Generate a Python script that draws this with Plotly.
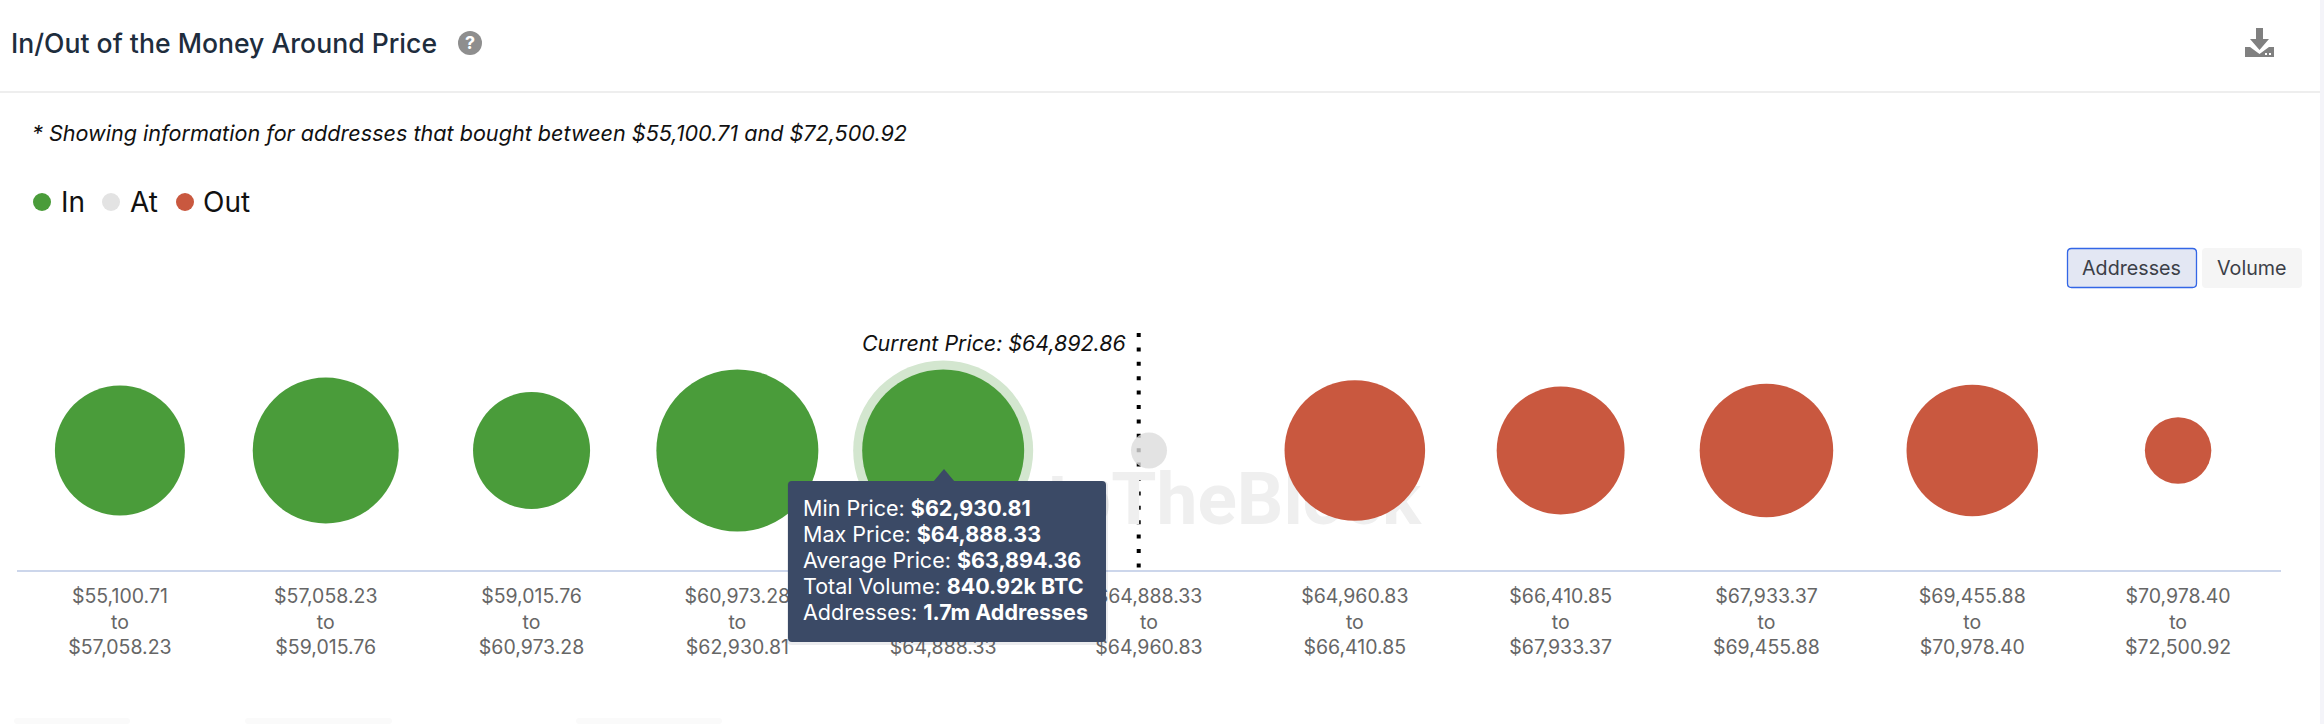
import plotly.graph_objects as go

# --- DATA ---
RANGE_LOW = ["$55,100.71", "$57,058.23", "$59,015.76", "$60,973.28", "$62,930.81", "$64,888.33",
             "$64,960.83", "$66,410.85", "$67,933.37", "$69,455.88", "$70,978.40"]
RANGE_HIGH = ["$57,058.23", "$59,015.76", "$60,973.28", "$62,930.81", "$64,888.33", "$64,960.83",
              "$66,410.85", "$67,933.37", "$69,455.88", "$70,978.40", "$72,500.92"]
ADDRESSES_M = [1.095, 1.38, 0.887, 1.70, 1.70, 0.084, 1.28, 1.06, 1.155, 1.12, 0.286]
STATUS = ["In", "In", "In", "In", "In", "At", "Out", "Out", "Out", "Out", "Out"]
CURRENT_POS = 4.95
HOVERED = 4
TOOLTIP_LINES = ["Min Price: <b>$62,930.81</b>", "Max Price: <b>$64,888.33</b>", "Average Price: <b>$63,894.36</b>",
                 "Total Volume: <b>840.92k BTC</b>", "Addresses: <b>1.7m Addresses</b>"]

# --- CONFIGURATION ---
W, H = 2324, 724
AX_L, AX_R, AX_T, AX_B = 17, 2281, 331, 570
FONT = "Inter"
COLORS = {"In": "#4a9c3a", "At": "#dcdcdc", "Out": "#c9583f"}
HALO = "#d3e6cf"
BUBBLE_D = 162  # pixel diameter of the 1.7m bubble


def px(x):
    return x / W


def py(y):
    return 1 - y / H


def label(x, y, text, size, color="#111111", anchor="left", italic=False, weight=400):
    style = "italic" if italic else "normal"
    return dict(xref="paper", yref="paper", x=px(x), y=py(y), text=text, showarrow=False,
                xanchor=anchor, yanchor="middle", align="left",
                font=dict(family=FONT, size=size, color=color, style=style, weight=weight))


def box(x0, y0, x1, y1, fill, line=None, width=0):
    return dict(type="rect", xref="paper", yref="paper", x0=px(x0), x1=px(x1), y0=py(y0), y1=py(y1),
                fillcolor=fill, line=dict(color=line, width=width) if line else dict(width=0), layer="above")


def rounded(x0, y0, x1, y1, r, fill, line=None, width=0):
    d = (f"M {px(x0 + r)},{py(y0)} L {px(x1 - r)},{py(y0)} Q {px(x1)},{py(y0)} {px(x1)},{py(y0 + r)} "
         f"L {px(x1)},{py(y1 - r)} Q {px(x1)},{py(y1)} {px(x1 - r)},{py(y1)} "
         f"L {px(x0 + r)},{py(y1)} Q {px(x0)},{py(y1)} {px(x0)},{py(y1 - r)} "
         f"L {px(x0)},{py(y0 + r)} Q {px(x0)},{py(y0)} {px(x0 + r)},{py(y0)} Z")
    return dict(type="path", xref="paper", yref="paper", path=d, fillcolor=fill,
                line=dict(color=line, width=width) if line else dict(width=0), layer="above")


def dot(cx, cy, d, fill):
    return dict(type="circle", xref="paper", yref="paper", x0=px(cx - d / 2), x1=px(cx + d / 2),
                y0=py(cy + d / 2), y1=py(cy - d / 2), fillcolor=fill, line=dict(width=0), layer="above")


def path(points, fill):
    d = "M " + " L ".join(f"{px(a):.5f},{py(b):.5f}" for a, b in points) + " Z"
    return dict(type="path", xref="paper", yref="paper", path=d, fillcolor=fill, line=dict(width=0), layer="above")


xs = list(range(len(ADDRESSES_M)))
sizeref = 2 * ADDRESSES_M[HOVERED] / BUBBLE_D ** 2
tick_text = [f"{a}<br>to<br>{b}" for a, b in zip(RANGE_LOW, RANGE_HIGH)]

fig = go.Figure()

# watermark sits under the bubbles so it has to be a trace
fig.add_trace(go.Scatter(x=[5.26], y=[-0.46], mode="text", text=["<b>IntoTheBlock</b>"],
                         textfont=dict(family="Roboto", size=73, color="#efefef"), hoverinfo="skip"))
fig.add_trace(go.Scatter(x=[HOVERED], y=[0], mode="markers", hoverinfo="skip",
                         marker=dict(size=180, color=HALO, line=dict(width=0))))
for s in ["In", "At", "Out"]:
    idx = [i for i in xs if STATUS[i] == s]
    fig.add_trace(go.Scatter(x=[xs[i] for i in idx], y=[0] * len(idx), mode="markers", name=s,
                             marker=dict(size=[ADDRESSES_M[i] for i in idx], sizemode="area", sizeref=sizeref,
                                         color=COLORS[s], opacity=0.8 if s == "At" else 1, line=dict(width=0))))

shapes = [
    dict(type="line", xref="x", yref="paper", x0=CURRENT_POS, x1=CURRENT_POS, y0=py(333), y1=py(568),
         line=dict(color="#000000", width=4, dash="4px,10.4px"), layer="below"),
    # header
    box(0, 91, 2320, 93, "#eeeeee"),
    box(2320, 0, 2324, 724, "#f4f4f9"),
    dot(470, 43, 24, "#8e8e8e"),
    # legend
    dot(42, 202, 18, COLORS["In"]),
    dot(111, 202, 18, "#e3e3e3"),
    dot(185, 202, 18, COLORS["Out"]),
    # buttons
    rounded(2067.5, 248.5, 2196.5, 287.5, 4, "#e3e7f3", "#3366e6", 1.3),
    rounded(2202, 248, 2302, 288, 4, "#f5f5f5"),
    # download icon
    path([(2256, 28), (2263, 28), (2263, 39), (2269, 39), (2259.5, 50), (2250, 39), (2256, 39)], "#808080"),
    path([(2245, 47), (2250, 47), (2259.5, 54), (2269, 47), (2274, 47), (2274, 57), (2245, 57)], "#808080"),
    box(2265, 53, 2267, 55, "#ffffff"),
    box(2269, 53, 2271, 55, "#ffffff"),
    # blurred page content along the bottom edge
    rounded(14, 718, 130, 724, 3, "#fafafa"),
    rounded(245, 718, 392, 724, 3, "#fafafa"),
    rounded(576, 718, 722, 724, 3, "#fafafa"),
    # tooltip
    rounded(787, 481, 1108, 645, 5, "rgba(60,70,90,0.10)"),
    rounded(788, 481, 1106, 642, 4, "#3b4a66"),
    path([(933, 482), (944, 469), (955, 482)], "#3b4a66"),
]

annotations = [
    label(9, 43, "In/Out of the Money Around Price", 26.6, "#1e2d3d", weight=500),
    label(470, 43, "?", 18, "#ffffff", "center", weight=700),
    label(30, 133, "* Showing information for addresses that bought between $55,100.71 and $72,500.92", 21.6, italic=True),
    label(59, 202, "In", 28),
    label(128, 202, "At", 28),
    label(201, 202, "Out", 28),
    label(2131, 268, "Addresses", 19.7, "#3c3f48", "center"),
    label(2252, 268, "Volume", 19.7, "#3c3f48", "center"),
    label(1128, 343, "Current Price: $64,892.86", 21.4, anchor="right", italic=True),
]
for i, line in enumerate(TOOLTIP_LINES):
    annotations.append(label(801, 508 + i * 26, line, 21.5, "#ffffff"))

fig.update_layout(
    width=W, height=H, margin=dict(l=0, r=0, t=0, b=0), showlegend=False,
    paper_bgcolor="#ffffff", plot_bgcolor="#ffffff", shapes=shapes, annotations=annotations,
    xaxis=dict(domain=[px(AX_L), px(AX_R)], range=[-0.5, len(xs) - 0.5], tickvals=xs, ticktext=tick_text,
               showgrid=False, zeroline=False, showline=True, linecolor="#ccd6eb", linewidth=2, ticks="",
               ticklabelstandoff=8, tickfont=dict(family=FONT, size=19.5, color="#666666")),
    yaxis=dict(domain=[py(AX_B), py(AX_T)], range=[-1, 1], visible=False),
)

fig.write_html("out.html", config={"displayModeBar": False},
               post_script="document.body.style.margin='0';")
